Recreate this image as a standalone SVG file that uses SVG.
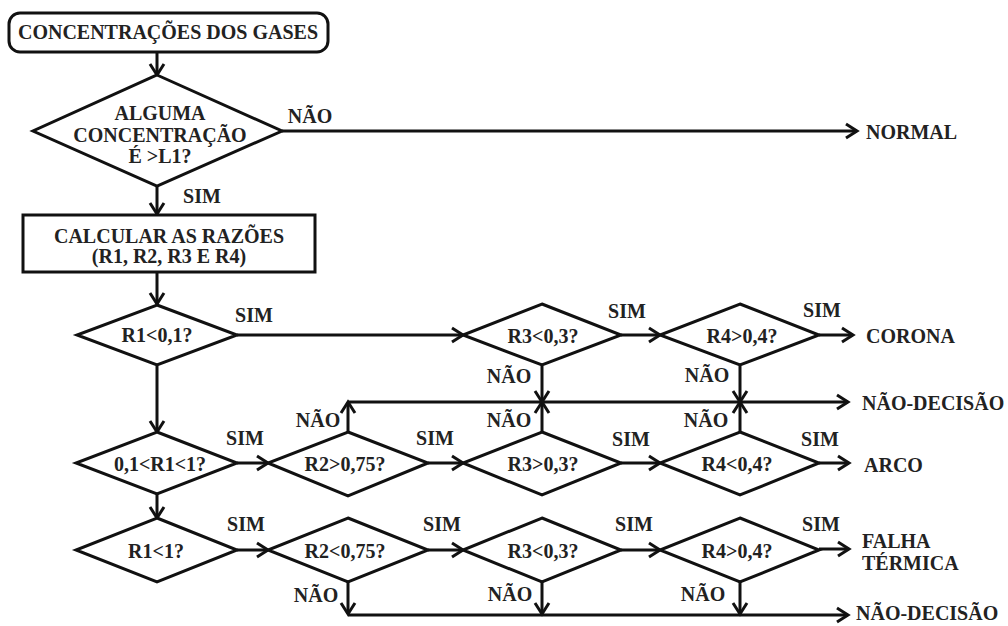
<svg xmlns="http://www.w3.org/2000/svg" width="1008" height="626" viewBox="0 0 1008 626">
  <style>
    .shape { fill: #fff; stroke: #111; stroke-width: 3; stroke-linejoin: miter; }
    .wire { fill: none; stroke: #111; stroke-width: 3; }
    text { font-family: "Liberation Serif", "Times New Roman", serif; font-weight: bold; font-size: 20px; fill: #222; }
    .c { text-anchor: middle; }
  </style>
  <defs>
    <marker id="chev" viewBox="-1 -1 14 18" refX="11" refY="8" markerWidth="14" markerHeight="18" markerUnits="userSpaceOnUse" orient="auto" overflow="visible">
      <path d="M0,1 L11,8 L0,15" fill="none" stroke="#111" stroke-width="3"/>
    </marker>
  </defs>

  <rect width="1008" height="626" fill="#fff"/>

  <!-- connectors -->
  <g id="connectors" class="wire">
    <path d="M157,52 V75" marker-end="url(#chev)"/>
    <path d="M282,131 H857" marker-end="url(#chev)"/>
    <path d="M157,186 V214" marker-end="url(#chev)"/>
    <path d="M157,272 V304" marker-end="url(#chev)"/>
    <!-- top row -->
    <path d="M237,335 H463" marker-end="url(#chev)"/>
    <path d="M621,335 H660" marker-end="url(#chev)"/>
    <path d="M819,335 H853" marker-end="url(#chev)"/>
    <path d="M542,366 V402" marker-end="url(#chev)"/>
    <path d="M740,366 V402" marker-end="url(#chev)"/>
    <path d="M157,366 V432" marker-end="url(#chev)"/>
    <!-- middle row -->
    <path d="M237,463 H268" marker-end="url(#chev)"/>
    <path d="M428,463 H463" marker-end="url(#chev)"/>
    <path d="M621,463 H660" marker-end="url(#chev)"/>
    <path d="M819,463 H849" marker-end="url(#chev)"/>
    <path d="M348,432 V402" marker-end="url(#chev)"/>
    <path d="M542,432 V402" marker-end="url(#chev)"/>
    <path d="M740,432 V402" marker-end="url(#chev)"/>
    <path d="M348,402 H848" marker-end="url(#chev)"/>
    <path d="M157,494 V518" marker-end="url(#chev)"/>
    <!-- bottom row -->
    <path d="M237,550 H268" marker-end="url(#chev)"/>
    <path d="M428,550 H463" marker-end="url(#chev)"/>
    <path d="M621,550 H660" marker-end="url(#chev)"/>
    <path d="M819,549 H849" marker-end="url(#chev)"/>
    <path d="M348,582 V614" marker-end="url(#chev)"/>
    <path d="M542,582 V614" marker-end="url(#chev)"/>
    <path d="M740,582 V614" marker-end="url(#chev)"/>
    <path d="M348,615 H848" marker-end="url(#chev)"/>
  </g>

  <!-- branch labels -->
  <g id="labels">
    <text class="c" x="310" y="123">NÃO</text>
    <text class="c" x="202" y="203">SIM</text>
    <text class="c" x="254" y="322">SIM</text>
    <text class="c" x="627" y="318">SIM</text>
    <text class="c" x="822" y="317">SIM</text>
    <text class="c" x="509" y="383">NÃO</text>
    <text class="c" x="707" y="382">NÃO</text>
    <text class="c" x="318" y="427">NÃO</text>
    <text class="c" x="509" y="427">NÃO</text>
    <text class="c" x="706" y="427">NÃO</text>
    <text class="c" x="245" y="445">SIM</text>
    <text class="c" x="435" y="445">SIM</text>
    <text class="c" x="631" y="446">SIM</text>
    <text class="c" x="820" y="446">SIM</text>
    <text class="c" x="246" y="531">SIM</text>
    <text class="c" x="442" y="531">SIM</text>
    <text class="c" x="634" y="531">SIM</text>
    <text class="c" x="821" y="531">SIM</text>
    <text class="c" x="316" y="602">NÃO</text>
    <text class="c" x="510" y="601">NÃO</text>
    <text class="c" x="703" y="601">NÃO</text>
  </g>

  <!-- nodes -->
  <g id="start">
    <rect class="shape" x="9" y="13" width="319" height="39" rx="11"/>
    <text class="c" x="168" y="39">CONCENTRAÇÕES DOS GASES</text>
  </g>
  <g id="check-l1">
    <polygon class="shape" points="157,75 282,131 157,186 33,131"/>
    <text class="c" x="160" y="120">ALGUMA</text>
    <text class="c" x="160" y="142">CONCENTRAÇÃO</text>
    <text class="c" x="160" y="163">É &gt;L1?</text>
  </g>
  <g id="ratios">
    <rect class="shape" x="23" y="215" width="292" height="57"/>
    <text class="c" x="169" y="243">CALCULAR AS RAZÕES</text>
    <text class="c" x="169" y="263">(R1, R2, R3 E R4)</text>
  </g>
  <g id="r1-lt-01">
    <polygon class="shape" points="157,305 237,335 157,365 77,335"/>
    <text class="c" x="157" y="342">R1&lt;0,1?</text>
  </g>
  <g id="r3-lt-03-a">
    <polygon class="shape" points="542,304 621,335 542,365 463,335"/>
    <text class="c" x="543" y="343">R3&lt;0,3?</text>
  </g>
  <g id="r4-gt-04-a">
    <polygon class="shape" points="740,304 819,335 740,365 660,335"/>
    <text class="c" x="742" y="343">R4&gt;0,4?</text>
  </g>
  <g id="r1-between">
    <polygon class="shape" points="157,432 237,463 157,494 76,463"/>
    <text class="c" x="160" y="471">0,1&lt;R1&lt;1?</text>
  </g>
  <g id="r2-gt-075">
    <polygon class="shape" points="348,432 428,463 348,496 268,463"/>
    <text class="c" x="345" y="471">R2&gt;0,75?</text>
  </g>
  <g id="r3-gt-03">
    <polygon class="shape" points="542,432 621,463 542,495 463,463"/>
    <text class="c" x="543" y="471">R3&gt;0,3?</text>
  </g>
  <g id="r4-lt-04">
    <polygon class="shape" points="740,432 819,463 740,495 660,463"/>
    <text class="c" x="737" y="471">R4&lt;0,4?</text>
  </g>
  <g id="r1-lt-1">
    <polygon class="shape" points="157,518 237,550 157,582 76,550"/>
    <text class="c" x="156" y="558">R1&lt;1?</text>
  </g>
  <g id="r2-lt-075">
    <polygon class="shape" points="348,518 428,550 348,582 268,550"/>
    <text class="c" x="345" y="558">R2&lt;0,75?</text>
  </g>
  <g id="r3-lt-03-b">
    <polygon class="shape" points="542,518 621,550 542,582 463,550"/>
    <text class="c" x="543" y="558">R3&lt;0,3?</text>
  </g>
  <g id="r4-gt-04-b">
    <polygon class="shape" points="740,518 819,550 740,582 660,550"/>
    <text class="c" x="737" y="558">R4&gt;0,4?</text>
  </g>

  <!-- outcomes -->
  <g id="normal"><text x="866" y="139">NORMAL</text></g>
  <g id="corona"><text x="866" y="343">CORONA</text></g>
  <g id="nd-1"><text x="862" y="410">NÃO-DECISÃO</text></g>
  <g id="arco"><text x="864" y="472">ARCO</text></g>
  <g id="falha"><text x="862" y="548">FALHA</text><text x="862" y="570">TÉRMICA</text></g>
  <g id="nd-2"><text x="856" y="620">NÃO-DECISÃO</text></g>
</svg>
